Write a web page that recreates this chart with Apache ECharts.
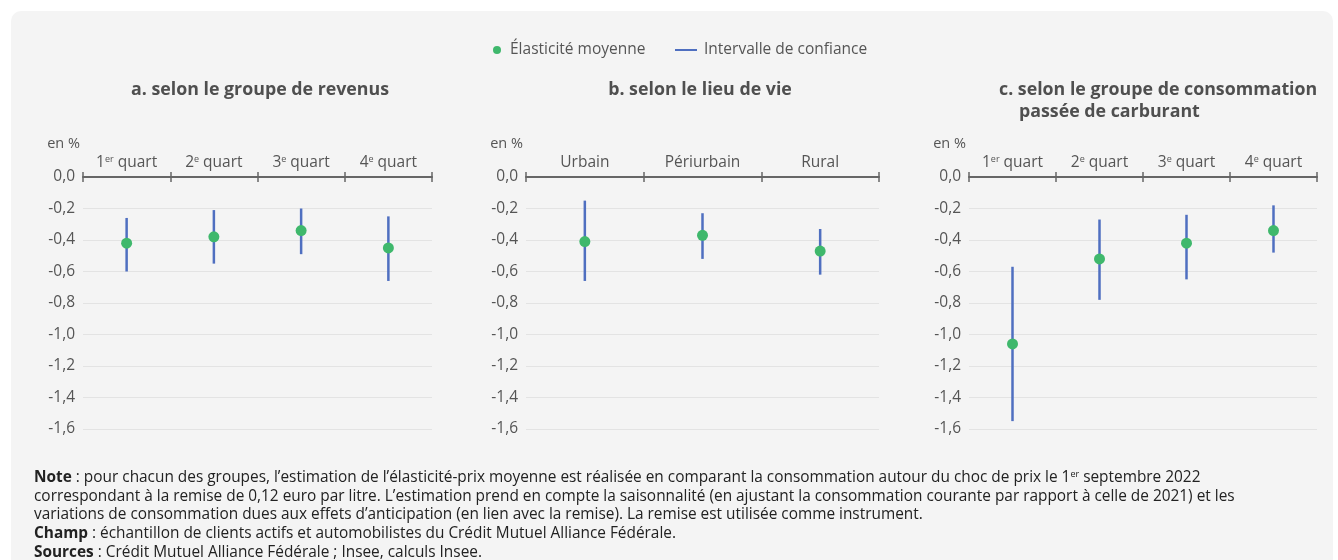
<!DOCTYPE html>
<html>
<head>
<meta charset="utf-8">
<script src="https://cdn.jsdelivr.net/npm/echarts@6/dist/echarts.min.js"></script>
<style>
  html, body { margin: 0; padding: 0; background: #fff; }
  #chart { width: 1338px; height: 560px; }
</style>
</head>
<body>
<div id="chart"></div>
<script>
// catégories
const revenusCats = ['1er quart', '2e quart', '3e quart', '4e quart'];
const lieuCats = ['Urbain', 'Périurbain', 'Rural'];
const consoCats = ['1er quart', '2e quart', '3e quart', '4e quart'];

// élasticité moyenne et bornes de l'intervalle de confiance (en %)
const revenusMean = [-0.42, -0.38, -0.34, -0.45];
const revenusLow = [-0.60, -0.55, -0.49, -0.66];
const revenusHigh = [-0.26, -0.21, -0.20, -0.25];

const lieuMean = [-0.41, -0.37, -0.47];
const lieuLow = [-0.66, -0.52, -0.62];
const lieuHigh = [-0.15, -0.23, -0.33];

const consoMean = [-1.06, -0.52, -0.42, -0.34];
const consoLow = [-1.55, -0.78, -0.65, -0.48];
const consoHigh = [-0.57, -0.27, -0.24, -0.18];

const yMin = -1.6, yMax = 0, yStep = 0.2;

const FONT = '"Open Sans", sans-serif';
const GREEN = '#3fb86c';
const BLUE = '#4f6fc0';
const AXIS = '#666';
const LABEL = '#555';
const PLOT_H = 252;

const panels = [
  { cats: revenusCats, mean: revenusMean, low: revenusLow, high: revenusHigh, left: 83, width: 349 },
  { cats: lieuCats, mean: lieuMean, low: lieuLow, high: lieuHigh, left: 526, width: 353 },
  { cats: consoCats, mean: consoMean, low: consoLow, high: consoHigh, left: 969, width: 348 }
];

// "1er quart" -> exposant
function catLabel(v) {
  const m = /^(\d)(er|e) (.*)$/.exec(v);
  if (!m) return v;
  return m[1] + '{sup|' + m[2] + '} ' + m[3];
}

const grid = [], xAxis = [], yAxis = [], series = [];
panels.forEach((p, i) => {
  grid.push({ left: p.left, width: p.width, top: 177, height: PLOT_H });
  xAxis.push({
    type: 'category', gridIndex: i, position: 'top', data: p.cats,
    axisLine: { show: true, lineStyle: { color: AXIS, width: 2 } },
    axisTick: { show: true, interval: 0, length: 5, lineStyle: { color: AXIS, width: 1.5 } },
    axisLabel: {
      interval: 0, margin: 6, color: LABEL, fontFamily: FONT, fontSize: 15.5,
      formatter: catLabel,
      rich: { sup: { fontSize: 9, fontFamily: FONT, color: LABEL, verticalAlign: 'top', padding: [0, 0, 7, 0] } }
    },
    splitLine: { show: false }
  });
  // second axe (placé en haut) pour les graduations vers le bas
  xAxis.push({
    type: 'category', gridIndex: i, position: 'bottom', offset: -PLOT_H, data: p.cats,
    axisLine: { show: false },
    axisTick: { show: true, interval: 0, length: 5, lineStyle: { color: AXIS, width: 1.5 } },
    axisLabel: { show: false },
    splitLine: { show: false }
  });
  yAxis.push({
    type: 'value', gridIndex: i, min: yMin, max: yMax, interval: yStep,
    name: 'en %', nameLocation: 'end', nameGap: 26,
    nameTextStyle: { color: LABEL, fontFamily: FONT, fontSize: 14.5, align: 'right', padding: [0, 3, 0, 0] },
    axisLine: { show: false }, axisTick: { show: false },
    axisLabel: {
      margin: 8, color: LABEL, fontFamily: FONT, fontSize: 15.5,
      formatter: v => v.toFixed(1).replace('.', ',')
    },
    splitLine: { lineStyle: { color: '#e3e3e3', width: 1 } }
  });
  series.push({
    name: 'Intervalle de confiance', type: 'custom',
    xAxisIndex: i * 2, yAxisIndex: i,
    data: p.cats.map((c, k) => [k, p.low[k], p.high[k]]),
    encode: { x: 0, y: [1, 2] },
    itemStyle: { color: BLUE },
    renderItem: function (params, api) {
      const a = api.coord([api.value(0), api.value(1)]);
      const b = api.coord([api.value(0), api.value(2)]);
      return {
        type: 'line',
        shape: { x1: a[0], y1: a[1], x2: b[0], y2: b[1] },
        style: { stroke: BLUE, lineWidth: 2.5 }
      };
    },
    z: 2
  });
  series.push({
    name: 'Élasticité moyenne', type: 'scatter',
    xAxisIndex: i * 2, yAxisIndex: i,
    data: p.mean, symbol: 'circle', symbolSize: 11,
    itemStyle: { color: GREEN, opacity: 1 },
    z: 3
  });
});

function txt(x, y, text, extra) {
  return {
    type: 'text', x: x, y: y,
    style: Object.assign({
      text: text, fontFamily: FONT, fontSize: 15.4, fill: '#222',
      verticalAlign: 'middle', align: 'left'
    }, extra || {})
  };
}

const richFoot = {
  b: { fontWeight: 'bold', fontFamily: FONT, fontSize: 15.4, color: '#111' },
  sup: { fontFamily: FONT, fontSize: 9, color: '#222', verticalAlign: 'top', padding: [0, 0, 7, 0] }
};
const titleStyle = { fontSize: 17.8, fontWeight: 'bold', fill: '#4f4f4f' };

const graphic = [
  { type: 'rect', shape: { x: 11, y: 11, width: 1322, height: 620, r: 10 }, style: { fill: '#f4f4f4' }, z: -10 },
  txt(131, 90, 'a. selon le groupe de revenus', titleStyle),
  txt(700, 90, 'b. selon le lieu de vie', Object.assign({ align: 'center' }, titleStyle)),
  txt(999, 90, 'c. selon le groupe de consommation', titleStyle),
  txt(1019, 112, 'passée de carburant', titleStyle),
  txt(34, 478, '{b|Note} : pour chacun des groupes, l’estimation de l’élasticité-prix moyenne est réalisée en comparant la consommation autour du choc de prix le 1{sup|er} septembre 2022', { rich: richFoot }),
  txt(34, 496.5, 'correspondant à la remise de 0,12 euro par litre. L’estimation prend en compte la saisonnalité (en ajustant la consommation courante par rapport à celle de 2021) et les'),
  txt(34, 515, 'variations de consommation dues aux effets d’anticipation (en lien avec la remise). La remise est utilisée comme instrument.'),
  txt(34, 534, '{b|Champ} : échantillon de clients actifs et automobilistes du Crédit Mutuel Alliance Fédérale.', { rich: richFoot }),
  txt(34, 553, '{b|Sources} : Crédit Mutuel Alliance Fédérale ; Insee, calculs Insee.', { rich: richFoot })
];

const chart = echarts.init(document.getElementById('chart'));
chart.setOption({
  backgroundColor: '#fff',
  animation: false,
  textStyle: { fontFamily: FONT },
  legend: [
    {
      data: ['Élasticité moyenne'], left: 493, top: 42, padding: 0,
      icon: 'circle', itemWidth: 8, itemHeight: 8,
      textStyle: { color: LABEL, fontFamily: FONT, fontSize: 15.5, padding: [0, 0, 0, 4] }
    },
    {
      data: ['Intervalle de confiance'], left: 675, top: 42, padding: 0,
      icon: 'rect', itemWidth: 22, itemHeight: 2,
      itemStyle: { color: BLUE },
      textStyle: { color: LABEL, fontFamily: FONT, fontSize: 15.5, padding: [0, 0, 0, 2] }
    }
  ],
  grid: grid,
  xAxis: xAxis,
  yAxis: yAxis,
  series: series,
  graphic: graphic
});
</script>
</body>
</html>
